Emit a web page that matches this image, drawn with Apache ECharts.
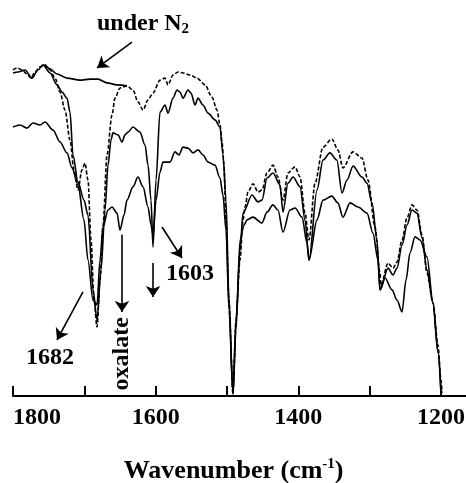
<!DOCTYPE html>
<html>
<head>
<meta charset="utf-8">
<script src="https://cdn.jsdelivr.net/npm/echarts@6.0.0/dist/echarts.min.js"></script>
<style>
    html, body { margin: 0; padding: 0; background: #fff; }
    #irchart { width: 466px; height: 483px; }
</style>
</head>
<body>
<div id="irchart"></div>
<script>
    // upper dashed spectrum
    var wnDash = [1800, 1794.4, 1787.4, 1780.4, 1774.8, 1769.2, 1762.1, 1755.1, 1748.1, 1741.1, 1734.1, 1727.1, 1720.1, 1714.5, 1708.9, 1703.3, 1699.1, 1694.9, 1690.6, 1686.4, 1682.2, 1678, 1673.8, 1668.2, 1661.2, 1657, 1650, 1640.2, 1631.8, 1624.8, 1617.7, 1610.7, 1603.7, 1593.9, 1586.9, 1582.7, 1575.7, 1568.7, 1561.7, 1551.9, 1542, 1530.8, 1521, 1514, 1509.8, 1507, 1504.2, 1501.4, 1497.2, 1491.6, 1487.4, 1481.7, 1477.5, 1474.7, 1470.5, 1463.5, 1456.5, 1450.9, 1443.9, 1435.5, 1428.5, 1421.5, 1414.5, 1404.6, 1397.6, 1390.6, 1385, 1376.6, 1365.4, 1352.9, 1344.5, 1337.4, 1323.3, 1310.7, 1302.3, 1292.5, 1285.5, 1284.1, 1274.2, 1267.2, 1261.6, 1254.6, 1247.6, 1240.6, 1233.6, 1226.6, 1219.6, 1211.2, 1204.2, 1200, 1198.6];
    var tDash = [95.9, 96.5, 95.9, 94.7, 93.5, 95.3, 96.8, 97.4, 95.9, 93.5, 89.4, 84.1, 75.3, 66.5, 60.6, 66.5, 68.5, 63.5, 45.9, 28.2, 20.3, 34.1, 50.3, 70.9, 82.6, 87.6, 90.6, 91.2, 90.0, 86.5, 84.1, 87.1, 89.1, 92.9, 93.5, 91.5, 94.4, 95.3, 95.0, 94.4, 93.5, 91.5, 87.9, 84.1, 79.7, 74.7, 67.9, 51.8, 28.2, 0.6, 22.4, 40.0, 51.8, 55.6, 60.0, 62.4, 60.0, 60.6, 65.6, 67.9, 64.4, 57.6, 65.6, 67.4, 64.4, 53.8, 45.9, 62.6, 73.2, 75.6, 72.4, 67.1, 71.8, 70.0, 63.5, 49.7, 36.2, 32.6, 39.1, 37.6, 39.4, 45.9, 52.4, 56.2, 54.7, 47.4, 36.2, 27.4, 15.0, 4.7, 0.9];

    // middle solid spectrum
    var wnMid = [1800, 1793, 1783.2, 1773.4, 1765, 1757.9, 1748.1, 1738.3, 1731.3, 1724.3, 1720.1, 1715.9, 1708.9, 1700.5, 1694.9, 1687.8, 1682.2, 1676.6, 1671, 1666.8, 1662.6, 1659.8, 1652.8, 1647.2, 1643, 1638.8, 1631.8, 1622, 1614.9, 1610.7, 1606.5, 1603.7, 1599.5, 1593.9, 1586.9, 1582.7, 1575.7, 1570.1, 1565.9, 1561.7, 1554.7, 1550.4, 1544.8, 1540.6, 1533.6, 1526.6, 1516.8, 1509.8, 1505.6, 1501.4, 1497.2, 1491.6, 1487.4, 1481.7, 1477.5, 1464.9, 1456.5, 1450.9, 1443.9, 1435.5, 1425.7, 1421.5, 1414.5, 1407.4, 1397.6, 1390.6, 1385, 1373.8, 1365.4, 1355.7, 1345.9, 1338.8, 1331.8, 1323.3, 1310.7, 1303.7, 1296.7, 1289.7, 1285.5, 1274.2, 1267.2, 1261.6, 1254.6, 1247.6, 1240.6, 1233.6, 1226.6, 1219.6, 1211.2, 1204.2, 1200];
    var tMid = [95.0, 95.3, 95.9, 93.5, 95.9, 97.4, 95.0, 91.5, 89.4, 87.6, 83.5, 70.9, 62.9, 57.6, 53.2, 31.2, 22.4, 37.1, 54.7, 67.9, 75.3, 77.4, 76.8, 74.7, 76.8, 77.6, 79.1, 77.6, 73.8, 67.9, 57.6, 43.8, 63.5, 83.5, 85.6, 83.2, 87.6, 90.0, 89.4, 87.6, 90.0, 89.1, 85.6, 87.6, 85.6, 83.2, 81.2, 79.1, 70.9, 57.6, 28.2, 0.6, 22.4, 42.9, 53.8, 59.1, 57.1, 57.6, 64.1, 65.6, 62.1, 54.1, 62.6, 64.4, 61.5, 51.8, 40.0, 60.6, 69.4, 71.5, 69.4, 59.7, 63.5, 67.6, 64.4, 62.6, 56.8, 45.9, 31.2, 37.6, 35.6, 37.6, 44.4, 50.3, 54.7, 53.8, 46.5, 37.1, 27.4, 13.5, 0.9];

    // lower solid spectrum
    var wnLow = [1800, 1790.2, 1780.4, 1772, 1762.1, 1755.1, 1743.9, 1734.1, 1724.3, 1717.3, 1708.9, 1700.5, 1694.9, 1687.8, 1682.2, 1678, 1673.8, 1666.8, 1661.2, 1654.2, 1650, 1644.4, 1640.2, 1631.8, 1624.8, 1617.7, 1610.7, 1606.5, 1603.7, 1599.5, 1593.9, 1589.7, 1579.9, 1572.9, 1567.3, 1561.7, 1554.7, 1547.6, 1540.6, 1533.6, 1526.6, 1516.8, 1509.8, 1505.6, 1501.4, 1497.2, 1491.6, 1487.4, 1481.7, 1476.1, 1471.9, 1463.5, 1450.9, 1443.9, 1435.5, 1428.5, 1421.5, 1411.7, 1404.6, 1394.8, 1387.8, 1385, 1373.8, 1365.4, 1352.9, 1344.5, 1337.4, 1327.5, 1316.3, 1303.7, 1295.3, 1288.3, 1285.5, 1278.5, 1268.6, 1261.6, 1254.6, 1249, 1243.4, 1236.4, 1229.4, 1219.6, 1211.2, 1204.2, 1200];
    var tLow = [79.1, 79.7, 78.8, 80.3, 79.7, 80.6, 78.2, 74.7, 71.5, 67.1, 62.1, 51.8, 40.0, 28.2, 26.8, 40.0, 49.7, 54.7, 55.6, 53.8, 48.8, 53.2, 57.6, 61.5, 64.4, 61.5, 55.6, 50.3, 47.4, 57.6, 65.9, 68.8, 68.8, 71.8, 70.9, 73.2, 72.9, 71.5, 72.4, 70.9, 68.8, 67.9, 64.1, 59.1, 48.8, 25.3, 0.6, 19.4, 45.9, 50.3, 51.8, 52.6, 50.9, 54.1, 56.2, 54.7, 48.2, 54.7, 55.3, 52.6, 45.0, 40.0, 51.8, 57.6, 58.8, 56.8, 52.6, 56.8, 55.6, 53.8, 47.9, 40.0, 31.2, 34.7, 31.2, 28.2, 24.7, 34.1, 42.1, 46.8, 45.9, 40.9, 27.4, 12.6, 0.9];

    // spectrum under N2 (only where it departs from the dashed one)
    var wnN2 = [1755.1, 1748.1, 1738.3, 1724.3, 1706.1, 1692, 1680.8, 1668.2, 1654.2, 1640.2];
    var tN2 = [97.4, 96.2, 94.7, 93.5, 92.9, 93.2, 93.2, 92.1, 91.5, 91.2];

    var xTicks = [1800, 1600, 1400, 1200];

    // annotations, in axis units
    var noteText = ['{t|under N}{s|2}', '{t|1682}', '{t|1603}', '{t|oxalate}'];
    var noteWn = [1617.7, 1748, 1551.9, 1647.2];
    var noteT = [109.4, 11.2, 35.9, 12.4];
    var noteRot = [0, 0, 0, 90];
    var arrowFrom = [[1633.2, 104.1], [1701.9, 30.6], [1647.2, 47.4], [1591.1, 49.7], [1603.7, 39.1]];
    var arrowTo = [[1682.2, 96.5], [1738.3, 16.5], [1647.2, 24.7], [1563.1, 40.6], [1603.7, 29.1]];

    var irchart = (function (w, undefined) {
        'use strict';
        var myChart;
        var font = '"Liberation Serif", "DejaVu Serif", serif';
        var zip = function (xs, ys) {
            var out = [];
            for (var i = 0; i < xs.length; i++) {
                out.push([xs[i], ys[i]]);
            }
            return out;
        };
        var spec = function (xs, ys, dashed) {
            return {
                type: 'line',
                data: zip(xs, ys),
                symbol: 'none',
                smooth: 0.3,
                smoothMonotone: 'x',
                silent: true,
                lineStyle: {
                    color: '#000',
                    width: 1.6,
                    type: dashed ? [4, 2] : 'solid'
                }
            };
        };
        var build_fig = function () {
            myChart = echarts.init(document.getElementById('irchart'));
            var points = [], lines = [];
            for (var i = 0; i < noteText.length; i++) {
                points.push({
                    coord: [noteWn[i], noteT[i]],
                    label: {rotate: noteRot[i], formatter: noteText[i]}
                });
            }
            for (var j = 0; j < arrowFrom.length; j++) {
                lines.push([{coord: arrowFrom[j]}, {coord: arrowTo[j]}]);
            }
            var rich = {
                t: {fontFamily: font, fontWeight: 'bold', fontSize: 24, color: '#000', lineHeight: 26},
                s: {fontFamily: font, fontWeight: 'bold', fontSize: 15, color: '#000', lineHeight: 15, verticalAlign: 'bottom'}
            };
            var titleRich = {
                t: {fontFamily: font, fontWeight: 'bold', fontSize: 26, color: '#000', lineHeight: 28},
                sup: {fontFamily: font, fontWeight: 'bold', fontSize: 15, color: '#000', lineHeight: 15, verticalAlign: 'top'}
            };
            var option = {
                animation: false,
                backgroundColor: '#fff',
                grid: {left: 13, top: 5, bottom: 87, width: 499.3, containLabel: false, outerBoundsMode: 'none'},
                xAxis: {
                    type: 'value',
                    inverse: true,
                    min: 1100,
                    max: 1800,
                    interval: 100,
                    splitLine: {show: false},
                    axisLine: {lineStyle: {color: '#000', width: 2}},
                    axisTick: {inside: true, length: 10, lineStyle: {color: '#000', width: 2}},
                    axisLabel: {
                        margin: 10,
                        color: '#000',
                        fontFamily: font,
                        fontWeight: 'bold',
                        fontSize: 24,
                        alignMaxLabel: 'left',
                        formatter: function (v) {
                            return xTicks.indexOf(v) >= 0 ? String(v) : '';
                        }
                    },
                    name: '{t|Wavenumber (cm}{sup|-1}{t|)}',
                    nameLocation: 'middle',
                    nameGap: 61,
                    nameTextStyle: {rich: titleRich, padding: [0, 58, 0, 0]}
                },
                yAxis: {
                    type: 'value',
                    min: 0,
                    max: 115,
                    show: false
                },
                series: [
                    spec(wnDash, tDash, true),
                    spec(wnMid, tMid, false),
                    spec(wnLow, tLow, false),
                    spec(wnN2, tN2, false),
                    {
                        type: 'line',
                        data: [],
                        silent: true,
                        markPoint: {
                            symbol: 'circle',
                            symbolSize: 1,
                            itemStyle: {color: 'rgba(0,0,0,0)'},
                            label: {show: true, position: 'inside', rich: rich},
                            data: points
                        },
                        markLine: {
                            silent: true,
                            symbol: ['none', 'arrow'],
                            symbolSize: 11,
                            label: {show: false},
                            lineStyle: {color: '#000', width: 1.6, type: 'solid'},
                            data: lines
                        }
                    }
                ]
            };
            myChart.setOption(option);
        };
        return {
            init: build_fig
        };
    })(window);
    irchart.init();
</script>
</body>
</html>
